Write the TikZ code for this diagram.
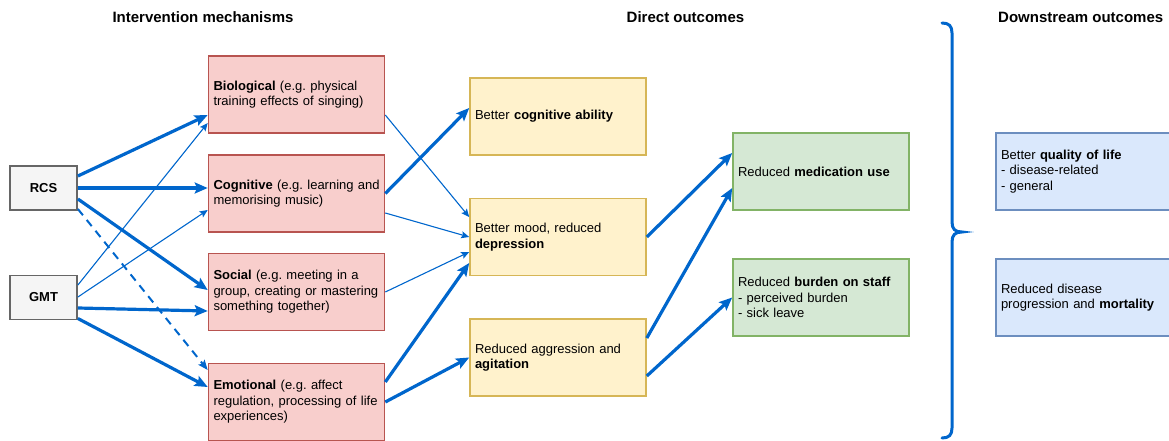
\documentclass[tikz,border=0pt]{standalone}
\usepackage{fontspec}
\setmainfont{Liberation Sans}
\usetikzlibrary{arrows.meta}
\definecolor{redfill}{HTML}{F8CECC}
\definecolor{redline}{HTML}{B85450}
\definecolor{yelfill}{HTML}{FFF2CC}
\definecolor{yelline}{HTML}{D6B656}
\definecolor{grnfill}{HTML}{D5E8D4}
\definecolor{grnline}{HTML}{82B366}
\definecolor{blufill}{HTML}{DAE8FC}
\definecolor{bluline}{HTML}{6C8EBF}
\definecolor{gryfill}{HTML}{F5F5F5}
\definecolor{gryline}{HTML}{666666}
\definecolor{arrowc}{HTML}{0066CC}
\frenchspacing
\begin{document}
\begin{tikzpicture}[x=1pt,y=-1pt,
  box/.style={draw, rectangle, line width=1.6pt, inner xsep=5pt, inner ysep=0pt,
    align=left, text width=166pt, minimum height=77pt,
    font=\fontsize{13}{15.5}\selectfont\frenchspacing},
  redbox/.style={box, fill=redfill, draw=redline},
  yelbox/.style={box, fill=yelfill, draw=yelline},
  grnbox/.style={box, fill=grnfill, draw=grnline},
  blubox/.style={box, fill=blufill, draw=bluline},
  srcbox/.style={draw=gryline, fill=gryfill, line width=1.8pt, rectangle,
    minimum width=67pt, minimum height=44pt, inner sep=0pt,
    font=\fontsize{13}{15.5}\selectfont\bfseries},
  header/.style={font=\fontsize{15}{18}\selectfont\bfseries, inner sep=0pt},
  thickarr/.style={draw=arrowc, line width=3.2pt, -{Stealth[length=13pt,width=11pt,inset=2.5pt]}},
  thinarr/.style={draw=arrowc, line width=1.1pt, -{Stealth[length=8pt,width=7pt,inset=1.5pt]}},
  dasharr/.style={draw=arrowc, line width=2pt, dash pattern=on 8pt off 6pt,
    -{Stealth[length=10pt,width=8pt,inset=2pt]}},
  brace/.style={draw=arrowc, line width=3pt, line cap=round}
]
\useasboundingbox (0,0) rectangle (1169,441);
\clip (0,0) rectangle (1169,441);

% headers
\node[header] (h1) at (203,17) {Intervention mechanisms};
\node[header] (h2) at (685.5,17) {Direct outcomes};
\node[header, anchor=west] (h3) at (998,17) {Downstream outcomes};

% sources
\node[srcbox] (rcs) at (43.5,188) {RCS};
\node[srcbox] (gmt) at (43.5,297.5) {GMT};

% mechanisms
\node[redbox] (bio) at (296.5,94.5) {\mbox{\textbf{Biological} (e.g. physical}\\\mbox{training effects of singing)}};
\node[redbox] (cog) at (296.5,193.5) {\mbox{\textbf{Cognitive} (e.g. learning and}\\memorising music)};
\node[redbox] (soc) at (296.5,292) {\mbox{\textbf{Social} (e.g. meeting in a}\\\mbox{group, creating or mastering}\\something together)};
\node[redbox] (emo) at (296.5,402) {\mbox{\textbf{Emotional} (e.g. affect}\\\mbox{regulation, processing of life}\\experiences)};

% direct outcomes
\node[yelbox] (cab) at (558,116.5) {Better \textbf{cognitive ability}};
\node[yelbox] (mood) at (558,237) {Better mood, reduced\\\textbf{depression}};
\node[yelbox] (agg) at (558,357.5) {Reduced aggression and\\\textbf{agitation}};

\node[grnbox] (med) at (821,171.5) {Reduced \textbf{medication use}};
\node[grnbox] (bur) at (821,297.5) {Reduced \textbf{burden on staff}\\- perceived burden\\- sick leave};

% downstream
\node[blubox] (qol) at (1084,171.5) {Better \textbf{quality of life}\\- disease-related\\- general};
\node[blubox] (mort) at (1084,297.5) {Reduced disease\\progression and \textbf{mortality}};

% brace
\draw[brace] (942,23) .. controls (949,23) and (952,26) .. (952,33)
  -- (952,222) .. controls (952,229) and (955,232) .. (962,232)
  .. controls (955,232) and (952,235) .. (952,242)
  -- (952,428) .. controls (952,435) and (949,438) .. (942,438);

% source -> mechanism
\draw[thickarr] ([yshift=12pt]rcs.east) -- ([yshift=-20.5pt]bio.west);
\draw[thickarr] ([yshift=0pt]rcs.east) -- ([yshift=5.5pt]cog.west);
\draw[thickarr] ([yshift=-11pt]rcs.east) -- ([yshift=2pt]soc.west);
\draw[dasharr] ([yshift=-21pt]rcs.east) -- ([yshift=32pt]emo.west);
\draw[thinarr] ([yshift=12.5pt]gmt.east) -- ([yshift=-28.5pt]bio.west);
\draw[thinarr] ([yshift=0.5pt]gmt.east) -- ([yshift=-16.5pt]cog.west);
\draw[thickarr] ([yshift=-10.5pt]gmt.east) -- ([yshift=-19pt]soc.west);
\draw[thickarr] ([yshift=-21pt]gmt.east) -- ([yshift=15pt]emo.west);

% mechanism -> direct
\draw[thinarr] ([yshift=-20.5pt]bio.east) -- ([yshift=20pt]mood.west);
\draw[thickarr] ([yshift=0pt]cog.east) -- ([yshift=8.5pt]cab.west);
\draw[thinarr] ([yshift=-19.5pt]cog.east) -- ([yshift=0pt]mood.west);
\draw[thinarr] ([yshift=0pt]soc.east) -- ([yshift=-15pt]mood.west);
\draw[thickarr] ([yshift=20pt]emo.east) -- ([yshift=-26pt]mood.west);
\draw[thickarr] ([yshift=0pt]emo.east) -- ([yshift=0pt]agg.west);

% direct -> green
\draw[thickarr] ([yshift=0pt]mood.east) -- ([yshift=18.5pt]med.west);
\draw[thickarr] ([yshift=19.5pt]agg.east) -- ([yshift=-16.5pt]med.west);
\draw[thickarr] ([yshift=-18.5pt]agg.east) -- ([yshift=0pt]bur.west);
\end{tikzpicture}
\end{document}
